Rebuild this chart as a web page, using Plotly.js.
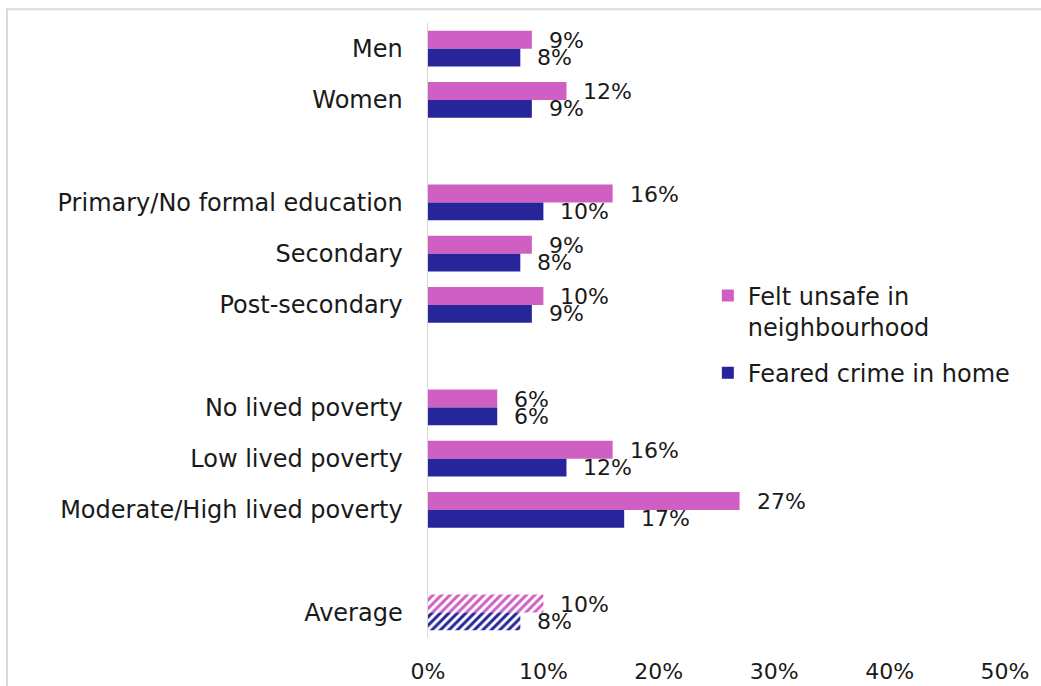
<!DOCTYPE html>
<html>
<head>
<meta charset="utf-8">
<script src="https://cdn.plot.ly/plotly-3.0.1.min.js"></script>
<style>html,body{margin:0;padding:0;background:#fff;}#chart{width:1041px;height:686px;}</style>
</head>
<body>
<div id="chart"></div>
<script>
// Categories (blank entries are the visual gaps between groups)
var categories = ['Men', 'Women', ' ', 'Primary/No formal education', 'Secondary', 'Post-secondary', '  ', 'No lived poverty', 'Low lived poverty', 'Moderate/High lived poverty', '   ', 'Average'];
var feltUnsafe = [9, 12, null, 16, 9, 10, null, 6, 16, 27, null, 10];
var fearedCrime = [8, 9, null, 10, 8, 9, null, 6, 12, 17, null, 8];
var seriesNames = ['Felt unsafe in<br>neighbourhood', 'Feared crime in home'];
var xTicks = [0, 10, 20, 30, 40, 50];
var xTickLabels = ['0%', '10%', '20%', '30%', '40%', '50%'];
var hatchedCategory = 'Average';

var pink = '#D05FC3';
var navy = '#26269A';
var FONT = 'DejaVu Sans, sans-serif';

function patternFor(color) {
  return {
    shape: categories.map(function (c) { return c === hatchedCategory ? '/' : ''; }),
    fgcolor: color, bgcolor: '#ffffff', size: 6, solidity: 0.5, fillmode: 'replace'
  };
}

var traces = [
  { type: 'bar', orientation: 'h', name: seriesNames[0], legendgroup: 'a', y: categories, x: feltUnsafe,
    marker: { color: pink, pattern: patternFor(pink) }, hoverinfo: 'x+y' },
  { type: 'bar', orientation: 'h', name: seriesNames[1], legendgroup: 'b', y: categories, x: fearedCrime,
    marker: { color: navy, pattern: patternFor(navy) }, hoverinfo: 'x+y' }
];

var annotations = [];
[feltUnsafe, fearedCrime].forEach(function (vals, si) {
  vals.forEach(function (v, i) {
    if (v === null) return;
    annotations.push({
      x: v, y: categories[i], xref: 'x', yref: 'y', text: v + '%', showarrow: false,
      xanchor: 'left', yanchor: 'middle', xshift: 15, yshift: si === 0 ? 8 : -9,
      font: { family: FONT, size: 22, color: '#1a1a1a' }
    });
  });
});

var layout = {
  width: 1041, height: 686,
  margin: { l: 428, r: 36, t: 23, b: 48, pad: 0 },
  paper_bgcolor: '#ffffff', plot_bgcolor: '#ffffff',
  barmode: 'group', bargap: 0.3, bargroupgap: 0,
  showlegend: true,
  legend: { x: 0.485, y: 0.593, xanchor: 'left', yanchor: 'top', valign: 'top',
    font: { family: FONT, size: 24, color: '#1a1a1a' }, bgcolor: 'rgba(0,0,0,0)', tracegroupgap: 12 },
  font: { family: FONT, size: 24, color: '#1a1a1a' },
  xaxis: { range: [0, 50], tickvals: xTicks, ticktext: xTickLabels, showgrid: false, zeroline: false,
    showline: false, ticks: '', ticklabelstandoff: 18, tickfont: { family: FONT, size: 22, color: '#1a1a1a' }, fixedrange: true },
  yaxis: { type: 'category', categoryorder: 'array', categoryarray: categories, autorange: 'reversed',
    showgrid: false, zeroline: false, showline: true, linecolor: '#d9d9d9', linewidth: 1.5,
    ticks: '', ticklabelstandoff: 19, tickfont: { family: FONT, size: 24, color: '#1a1a1a' }, fixedrange: true },
  annotations: annotations,
  shapes: [{ type: 'rect', xref: 'paper', yref: 'paper', x0: -0.7296, x1: 1.2, y0: -0.2, y1: 1.0223,
    line: { color: '#d9d9d9', width: 2 }, fillcolor: 'rgba(0,0,0,0)', layer: 'below' }]
};

Plotly.newPlot('chart', traces, layout, { displayModeBar: false, staticPlot: true });
</script>
</body>
</html>
